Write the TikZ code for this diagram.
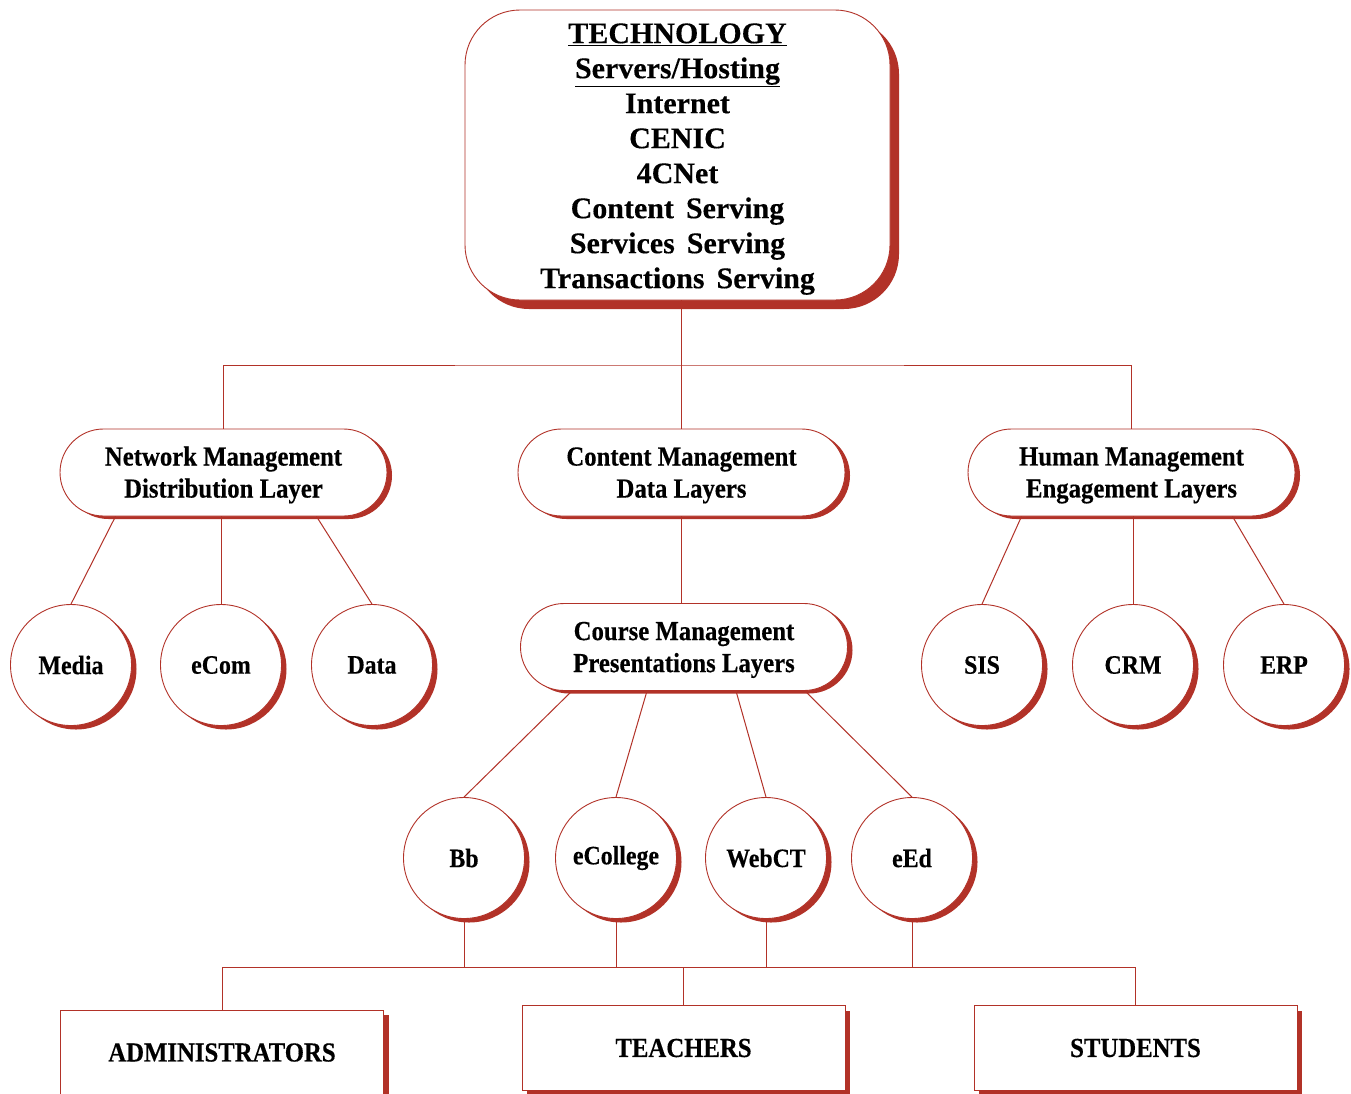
\documentclass[tikz,border=0pt]{standalone}
\usepackage{fontspec}
\setmainfont{Liberation Serif}
\newfontfamily\condfont[FakeStretch=0.9,FakeBold=0.4]{Liberation Serif}
\newfontfamily\topfont[WordSpace=1.6,FakeBold=0.3]{Liberation Serif}
\usetikzlibrary{shapes.misc,shadows,calc}
\definecolor{shred}{RGB}{178,50,40}
\begin{document}
\begin{tikzpicture}[x=1pt,y=-1pt,
  link/.style={draw=shred,line width=1pt},
  topbox/.style={rectangle,rounded corners=55pt,draw=shred,line width=0.9pt,fill=white,
    minimum width=425pt,minimum height=290pt,align=center,inner sep=0pt,
    font=\topfont\bfseries\fontsize{30}{35}\selectfont,
    drop shadow={shadow xshift=9pt,shadow yshift=-9pt,fill=shred,opacity=1}},
  oval/.style={rounded rectangle,draw=shred,line width=0.9pt,fill=white,
    minimum width=327pt,minimum height=87pt,align=center,inner sep=0pt,
    font=\condfont\bfseries\fontsize{27.5}{32}\selectfont,
    drop shadow={shadow xshift=5pt,shadow yshift=-3pt,fill=shred,opacity=1}},
  bubble/.style={circle,draw=shred,line width=0.9pt,fill=white,minimum size=121pt,inner sep=0pt,
    font=\condfont\bfseries\fontsize{26.5}{30}\selectfont,
    drop shadow={shadow xshift=5pt,shadow yshift=-4pt,fill=shred,opacity=1}},
  rolebox/.style={rectangle,draw=shred,line width=0.9pt,fill=white,minimum width=323pt,minimum height=85pt,inner sep=0pt,
    font=\condfont\bfseries\fontsize{27.5}{30}\selectfont,
    drop shadow={shadow xshift=5pt,shadow yshift=-5pt,fill=shred,opacity=1}}
]
\useasboundingbox[fill=white] (0,0) rectangle (1351,1093);

\node[topbox] (tech) at (677.5,155) {\rule{0pt}{28pt}\underline{TECHNOLOGY}\\\underline{Servers/Hosting}\\Internet\\CENIC\\4CNet\\Content Serving\\Services Serving\\Transactions Serving};

\node[oval] (net) at (223.5,472.5) {\rule{0pt}{24pt}Network Management\\Distribution Layer};
\node[oval] (cont) at (681.5,472.5) {\rule{0pt}{24pt}Content Management\\Data Layers};
\node[oval] (hum) at (1131.5,472.5) {\rule{0pt}{24pt}Human Management\\Engagement Layers};
\node[oval] (course) at (684,647) {\rule{0pt}{24pt}Course Management\\Presentations Layers};

\node[bubble] (media) at (71,665) {Media};
\node[bubble] (ecom) at (221,665) {eCom};
\node[bubble] (data) at (372,665) {Data};
\node[bubble] (sis) at (982,665) {SIS};
\node[bubble] (crm) at (1133,665) {CRM};
\node[bubble] (erp) at (1284,665) {ERP};

\node[bubble] (bb) at (464,858) {Bb};
\node[bubble] (ecol) at (616,858) {eCollege};
\node[bubble] (webct) at (766,858) {WebCT};
\node[bubble] (eed) at (912,858) {eEd};

\node[rolebox] (admin) at (222,1052.5) {ADMINISTRATORS};
\node[rolebox] (teach) at (683.5,1048) {TEACHERS};
\node[rolebox] (stud) at (1135.5,1048) {STUDENTS};

% top level connectors
\coordinate (ht) at (681.5,365);
\draw[link] (tech.south -| cont.north) -- (cont.north);
\draw[link] (net.north) |- (ht) -| (hum.north);

% network
\draw[link] ([xshift=-108pt]net.south) -- (media.north);
\draw[link] (net.south -| ecom.north) -- (ecom.north);
\draw[link] ([xshift=93pt]net.south) -- (data.north);

% content to course
\draw[link] (cont.south) -- (cont.south |- course.north);

% human
\draw[link] ([xshift=-110pt]hum.south) -- (sis.north);
\draw[link] (hum.south -| crm.north) -- (crm.north);
\draw[link] ([xshift=101pt]hum.south) -- (erp.north);

% course
\draw[link] ([xshift=-112pt]course.south) -- (bb.north);
\draw[link] ([xshift=-37pt]course.south) -- (ecol.north);
\draw[link] ([xshift=52pt]course.south) -- (webct.north);
\draw[link] ([xshift=121pt]course.south) -- (eed.north);

% bottom
\coordinate (hb) at (680,967);
\draw[link] (bb.south) -- (bb.south |- hb);
\draw[link] (ecol.south) -- (ecol.south |- hb);
\draw[link] (webct.south) -- (webct.south |- hb);
\draw[link] (eed.south) -- (eed.south |- hb);
\draw[link] (admin.north) |- (hb) -| (stud.north);
\draw[link] (teach.north) -- (teach.north |- hb);
\end{tikzpicture}
\end{document}
